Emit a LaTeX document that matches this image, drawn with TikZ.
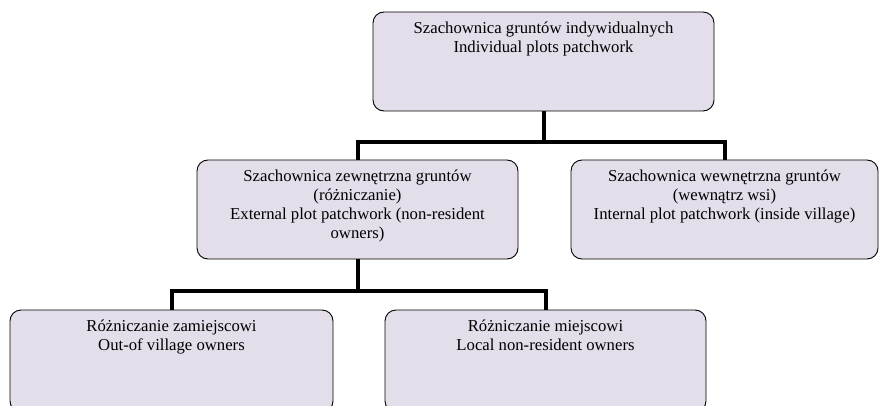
\documentclass[tikz,border=0pt]{standalone}
\usepackage{fontspec}
\setmainfont{Liberation Serif}
\definecolor{boxfill}{RGB}{227,222,234}
\begin{document}
\begin{tikzpicture}
[x=1pt,y=1pt,
  boxdecorate/.style={shape=rectangle,rounded corners=11pt,draw,line width=0.9pt,
    fill=boxfill,inner sep=0pt},%
  textdecorate/.style={anchor=north,align=center,inner sep=0pt,yshift=-10pt,
    font=\fontsize{16.7}{19}\selectfont},%
  linedecorate/.style={-,line width=4pt}]
\useasboundingbox (0,0) rectangle (880,405);
%% boxes
\foreach \nodename/\x/\y/\w/\h in {ind/543.5/343.5/341/99, ext/357.5/195.5/321/99,
  int/724.5/195.5/307/99, out/171.5/44/323/102, loc/545.5/44/321/102} {
  \node (\nodename) at (\x,\y) [boxdecorate,minimum width=\w,minimum height=\h] {};
}
%% texts
\foreach \nodename/\lbl in {
  ind/{Szachownica gruntów indywidualnych\\Individual plots patchwork},
  ext/{Szachownica zewnętrzna gruntów\\(różniczanie)\\External plot patchwork (non-resident\\owners)},
  int/{Szachownica wewnętrzna gruntów\\(wewnątrz wsi)\\Internal plot patchwork (inside village)},
  out/{Różniczanie zamiejscowi\\Out-of village owners},
  loc/{Różniczanie miejscowi\\Local non-resident owners}} {
  \node (\nodename-txt) at (\nodename.north) [textdecorate] {\lbl};
}
%% connectors
\path
\foreach \startnode/\endnode/\drop in {ind/ext/31, ind/int/31, ext/out/32,
  ext/loc/32} {
  (\startnode.south) edge[linedecorate,to path={-- ++(0,-\drop) -| (\tikztotarget)}] (\endnode.north)
};
\end{tikzpicture}
\end{document}
